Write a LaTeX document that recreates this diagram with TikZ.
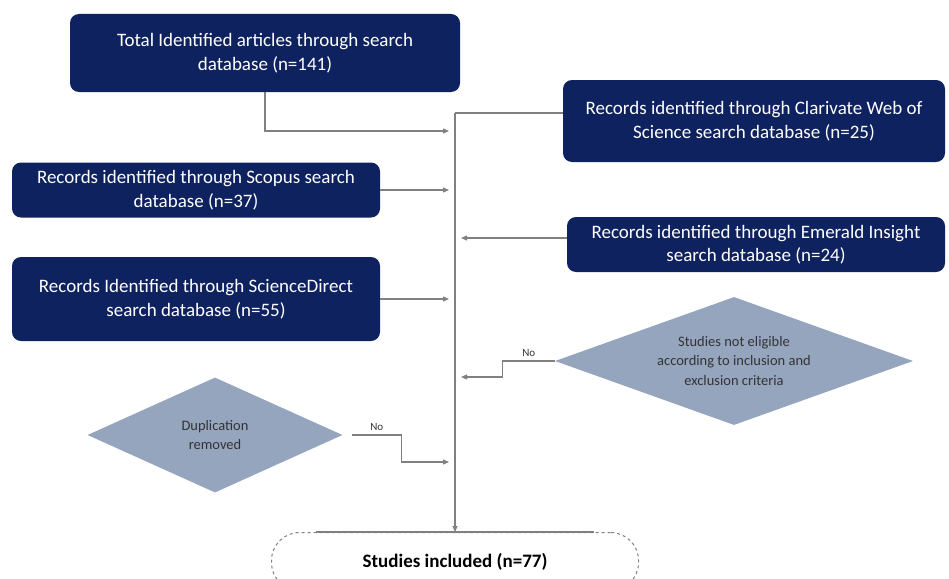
\documentclass[tikz,border=0pt]{standalone}
\usepackage{fontspec}
\setmainfont{Carlito}
\usetikzlibrary{positioning,
	shapes.geometric,
	arrows.meta}
\definecolor{navy}{RGB}{15,34,96}
\definecolor{slate}{RGB}{150,165,190}
\definecolor{wire}{RGB}{128,128,128}
\tikzset{
	srcbox/.style={rectangle, rounded corners=9pt, fill=navy, text=white, align=center,
		inner sep=0pt, font=\fontsize{19}{23.5}\selectfont},
	decide/.style={diamond, fill=slate, text=black!80, align=center, inner sep=0pt,
		font=\fontsize{14.5}{19.5}\selectfont},
	wire/.style={draw=wire, line width=1.2pt},
	arr/.style={wire, -{Triangle[length=6pt,width=5pt]}},
	nolabel/.style={font=\fontsize{11}{12}\selectfont, text=black!80, inner sep=4pt}
}

\begin{document}
\begin{tikzpicture}[x=1pt, y=-1pt]
            \useasboundingbox (0,0) rectangle (949,578);
            \clip (0,0) rectangle (949,578);

            \node[srcbox, minimum width=390pt, minimum height=78pt] (total) at (265, 53)
                {Total Identified articles through search\\database (n=141)};
            \node[srcbox, minimum width=368pt, minimum height=55pt] (scopus) at (196, 190)
                {Records identified through Scopus search\\database (n=37)};
            \node[srcbox, minimum width=368pt, minimum height=84pt] (sdirect) at (196, 299)
                {Records Identified through ScienceDirect\\search database (n=55)};
            \node[srcbox, minimum width=382pt, minimum height=82pt] (clarivate) at (754, 121)
                {Records identified through Clarivate Web of\\Science search database (n=25)};
            \node[srcbox, minimum width=378pt, minimum height=55pt] (emerald) at (756, 244.5)
                {Records identified through Emerald Insight\\search database (n=24)};

            \node[decide, aspect=2.8, minimum width=358pt, minimum height=128pt] (elig) at (734, 361)
                {Studies not eligible\\according to inclusion and\\exclusion criteria};
            \node[decide, aspect=2.2, minimum width=255pt, minimum height=115pt] (dup) at (215, 435)
                {Duplication\\removed};

            \node[rectangle, rounded corners=28pt, draw=wire, dashed, line width=1pt,
                minimum width=367pt, minimum height=58pt, anchor=north,
                font=\fontsize{19}{22}\selectfont\bfseries] (incl) at (455, 532)
                {Studies included (n=77)};
            \draw[wire] ([xshift=45pt]incl.north west) -- ([xshift=-45pt]incl.north east);

            \coordinate (top) at (455, 113);
            \coordinate (in1) at (449, 131);
            \coordinate (in2) at (449, 190);
            \coordinate (in3) at (449, 299);
            \coordinate (in5) at (461, 238);
            \coordinate (in6) at (461, 377);
            \coordinate (in7) at (449, 462);

            \draw[arr] (top) -- (incl.north);
            \draw[wire] (clarivate.west |- top) -- (top);
            \draw[arr] (total.south) |- (in1);
            \draw[arr] (scopus.east) -- (in2);
            \draw[arr] (sdirect.east) -- (in3);
            \draw[arr] (emerald.west |- in5) -- (in5);
            \draw[arr] (elig.west) -- node[above, nolabel] {No} ++(-52, 0) |- (in6);
            \draw[arr] ([xshift=9pt]dup.east) -- node[above, nolabel] {No} ++(50, 0) |- (in7);
        \end{tikzpicture}
\end{document}
